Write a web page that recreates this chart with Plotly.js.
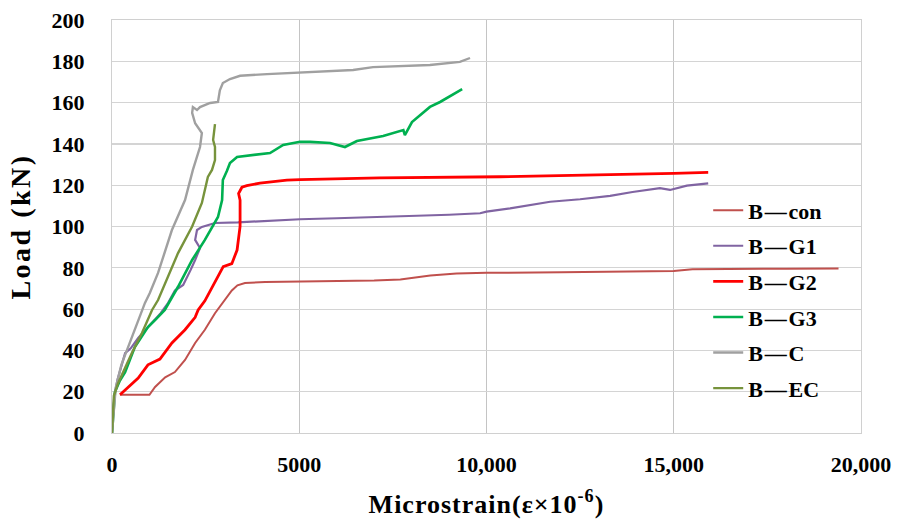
<!DOCTYPE html>
<html>
<head>
<meta charset="utf-8">
<script src="https://cdn.plot.ly/plotly-3.0.1.min.js"></script>
<style>html,body{margin:0;padding:0;background:#fff;}#chart{width:904px;height:526px;}</style>
</head>
<body>
<div id="chart"></div>
<script>
const seriesNames = ["B\u200a\u2014\u200acon", "B\u200a\u2014\u200aG1", "B\u200a\u2014\u200aG2", "B\u200a\u2014\u200aG3", "B\u200a\u2014\u200aC", "B\u200a\u2014\u200aEC"];

const conX = [213,1000,1150,1420,1680,1950,2220,2480,2750,3020,3200,3350,3550,4090,5000,6000,7000,7700,8500,9200,10000,12000,14000,15000,15500,16500,18000,19400];
const conY = [18.5,18.5,22.3,27,29.5,35.4,43.6,50,58,64.4,69,71.5,72.6,73.1,73.3,73.5,73.8,74.3,76.3,77.3,77.6,77.8,78.2,78.5,79.3,79.5,79.6,79.7];

const g1X = [0,60,150,350,500,700,900,1100,1300,1500,1680,1900,2000,2100,2220,2350,2220,2270,2400,2750,3360,4090,5020,6000,7690,9000,9830,10000,10630,11160,11700,12500,13300,13900,14630,14900,15350,15920];
const g1Y = [0,18,26,38.7,41,46,50,54,58,63,69,71.7,75,79,83.8,89.6,93.5,98.3,99.8,101.7,102,102.7,103.5,104,104.8,105.7,106.4,107.2,108.8,110.4,112,113.2,114.8,116.7,118.6,117.7,119.8,120.9];

const g2X = [213,700,960,1280,1600,1950,2220,2300,2480,2830,2970,3200,3340,3420,3420,3380,3470,3600,3950,4670,5020,7150,10000,10360,15000,15920];
const g2Y = [18.5,26.6,33,35.8,43.6,50,56,59.6,64,75.5,80.6,82,88.6,100,112.8,116,119,119.8,121,122.5,122.7,123.5,123.8,124.1,125.7,126.2];

const g3X = [0,80,200,350,610,960,1150,1410,1760,2140,2480,2830,2940,2960,3070,3150,3340,3690,4220,4570,5020,5290,5820,6220,6540,7240,7780,7820,8010,8490,8760,9350];
const g3Y = [0,20,25,29.5,41.6,51.3,54.7,59.6,70.7,83.8,93.5,104.6,112.8,122.5,127,130.7,133.7,134.5,135.6,139.5,141,141,140.4,138.5,141.4,143.8,146.7,144.3,150.6,157.9,160.3,166.5];

const cX = [0,100,250,430,700,880,1010,1230,1600,1950,2160,2350,2400,2220,2140,2160,2270,2350,2620,2830,2880,2960,3150,3420,4140,5020,6440,6970,7690,8490,9290,9560];
const cY = [0,22,33,41.6,54.7,63,67.8,77.5,98.3,112.8,127.4,138.5,145.3,150,155,157.8,156.4,157.8,159.8,160.3,166,169.5,171.4,173,173.8,174.5,175.8,177.2,177.7,178.2,179.7,181.6];

const ecX = [0,50,160,530,800,1070,1230,1420,1760,2140,2400,2560,2670,2750,2750,2700,2750,2750];
const ecY = [0,18,24,38.7,48.4,59.6,64.4,72.6,87,100,111.4,124,127.4,132.2,138.5,141.9,148.2,149.6];

const xTickVals = [0,5000,10000,15000,20000];
const xTickText = ["0","5000","10,000","15,000","20,000"];

const colors = ["#c0504d","#8064a2","#ff0000","#00b050","#a0a0a0","#77933c"];
const widths = [2,2.2,2.8,2.6,2.4,2.4];
const xs = [conX,g1X,g2X,g3X,cX,ecX];
const ys = [conY,g1Y,g2Y,g3Y,cY,ecY];

const font = "Liberation Serif, Times New Roman, serif";
const traces = seriesNames.map((n,i)=>({
  x: xs[i], y: ys[i], name: n, type: 'scatter', mode: 'lines',
  legendgroup: 'g'+i,
  line: {color: colors[i], width: widths[i]}
}));

const layout = {
  width: 904, height: 526,
  margin: {l:112, r:43, t:20, b:93},
  paper_bgcolor: '#fff', plot_bgcolor: '#fff',
  font: {family: font, size: 22, color: '#000', weight: 'bold'},
  showlegend: true,
  legend: {x: 0.796, y: 0.59, xanchor: 'left', yanchor: 'top', bgcolor: 'rgba(0,0,0,0)',
           font: {family: font, size: 22, color: '#000', weight: 'bold'}, tracegroupgap: 4},
  xaxis: {range: [0,20000], tickvals: xTickVals, ticktext: xTickText,
          showgrid: true, gridcolor: '#c4c4c4', gridwidth: 1,
          showline: true, linecolor: '#d0d0d0', mirror: true, zeroline: false,
          ticks: '', ticklabelstandoff: 12,
          tickfont: {family: font, size: 22, color: '#000', weight: 'bold'},
          title: {text: 'Microstrain(\u03b5\u00d710<sup>-6</sup>)', standoff: 18,
                  font: {family: font, size: 26, color: '#000', weight: 'bold'}}},
  yaxis: {range: [0,200], dtick: 20,
          showgrid: true, gridcolor: '#d4d4d4', gridwidth: 1.2,
          showline: true, linecolor: '#d0d0d0', mirror: true, zeroline: false,
          ticks: '', ticklabelstandoff: 22,
          tickfont: {family: font, size: 22, color: '#000', weight: 'bold'},
          title: {text: 'Load (kN)', standoff: 12,
                  font: {family: font, size: 28, color: '#000', weight: 'bold'}}}
};

Plotly.newPlot('chart', traces, layout, {displayModeBar: false, staticPlot: true}).then(()=>{
  const yt = document.querySelector('.ytitle');
  if (yt) yt.style.letterSpacing = '2.5px';
  const xt = document.querySelector('.xtitle');
  if (xt) xt.style.letterSpacing = '1px';
});
</script>
</body>
</html>
